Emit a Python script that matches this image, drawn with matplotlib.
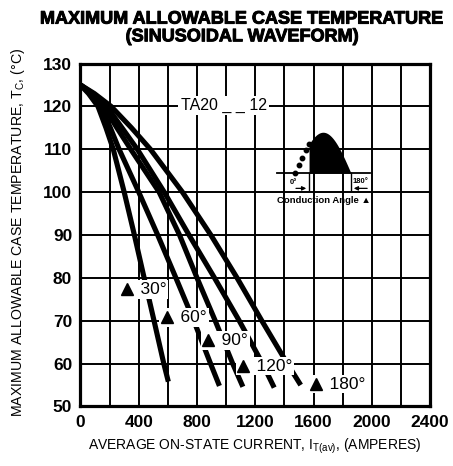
import matplotlib.pyplot as plt
import matplotlib.patheffects as pe
import numpy as np

plt.rcParams['font.family'] = ['Liberation Sans', 'DejaVu Sans']
plt.rcParams['mathtext.fontset'] = 'custom'
plt.rcParams['mathtext.rm'] = 'Liberation Sans'
plt.rcParams['mathtext.it'] = 'Liberation Sans'

# case temperature (degC) vs average on-state current (A), one curve per conduction angle
angles = ['30°', '60°', '90°', '120°', '180°']
amps_30 = [0, 55, 120, 175, 225, 300, 370, 437, 505, 572, 603]
temp_30 = [125, 123, 120, 115, 110, 100, 90, 80, 70, 60, 55.8]
amps_60 = [0, 65, 140, 205, 265, 400, 530, 655, 778, 893, 954]
temp_60 = [125, 123, 120, 115, 110, 100, 90, 80, 70, 60, 54.8]
amps_90 = [0, 75, 160, 250, 345, 540, 680, 800, 925, 1045, 1115]
temp_90 = [125, 123, 120, 115, 110, 100, 90, 80, 70, 60, 54.6]
amps_120 = [0, 85, 180, 285, 390, 575, 745, 920, 1090, 1250, 1330]
temp_120 = [125, 123, 120, 115, 110, 100, 90, 80, 70, 60, 54.4]
amps_180 = [0, 95, 210, 350, 480, 700, 895, 1075, 1245, 1420, 1512]
temp_180 = [125, 123, 120, 115, 110, 100, 90, 80, 70, 60, 55.0]

curves = [(amps_30, temp_30), (amps_60, temp_60), (amps_90, temp_90),
          (amps_120, temp_120), (amps_180, temp_180)]

# triangle marker of each angle label
label_amps = [320, 596, 878, 1119, 1615]
label_temp = [77.4, 70.9, 65.5, 59.5, 55.3]

x_ticks = [0, 400, 800, 1200, 1600, 2000, 2400]
y_ticks = [50, 60, 70, 80, 90, 100, 110, 120, 130]

fig = plt.figure(figsize=(4.53, 4.66), dpi=100)
ax = fig.add_axes([0.1777, 0.1277, 0.7716, 0.736])

for amps, temp in curves:
    ax.plot(amps, temp, color='black', lw=3.7, solid_capstyle='butt',
            solid_joinstyle='round', zorder=3)

for name, xa, ya in zip(angles, label_amps, label_temp):
    ax.text(xa - 42, ya - 0.1, '    ' + name, fontsize=12.5, ha='left', va='center',
            bbox=dict(facecolor='white', edgecolor='none', pad=1.2), zorder=5)
ax.plot(label_amps, label_temp, ls='none', marker='^', ms=8.5, color='black', zorder=6)

ax.text(982, 120.2, 'TA20 _ _ 12', fontsize=11.5, ha='center', va='center',
        bbox=dict(facecolor='white', edgecolor='none', pad=1.5), zorder=5)

ax.set_xlim(0, 2400)
ax.set_ylim(50, 130)
ax.set_xticks(x_ticks)
ax.set_xticks(np.arange(0, 2401, 200), minor=True)
ax.set_yticks(y_ticks)
ax.grid(True, which='both', color='black', lw=1.4)
ax.tick_params(which='both', length=0, labelsize=12.5, pad=6)
for lab in ax.get_xticklabels() + ax.get_yticklabels():
    lab.set_fontweight('bold')
for sp in ax.spines.values():
    sp.set_linewidth(2.3)
ax.set_axisbelow(True)

# conduction angle sketch
ins = ax.inset_axes([0.551, 0.587, 0.300, 0.227])
ins.set_zorder(4)
ins.set_xlim(-70.7, 266.8)
ins.set_ylim(-0.78, 1.12)
ins.axis('off')
ins.patch.set_visible(True)
ins.set_facecolor('white')
ph_dot = np.linspace(0, 45, 5)
ph_on = np.linspace(45, 180, 60)
ins.plot([-58, 241], [0, 0], color='black', lw=1.3)
ins.plot(ph_dot, np.sin(np.radians(ph_dot)), ls='none', marker='o', ms=3.2, color='black')
ins.fill_between(ph_on, 0, np.sin(np.radians(ph_on)), color='black', lw=0)
ins.plot([45, 45], [0, -0.42], color='black', lw=1.0)
ins.plot([180, 180], [0, -0.42], color='black', lw=1.0)
ins.annotate('', xy=(45, -0.37), xytext=(-6, -0.37),
             arrowprops=dict(arrowstyle='-|>', lw=0.9, color='black', mutation_scale=6))
ins.annotate('', xy=(180, -0.37), xytext=(241, -0.37),
             arrowprops=dict(arrowstyle='-|>', lw=0.9, color='black', mutation_scale=6))
ins.text(-4, -0.22, '0°', fontsize=5.5, fontweight='bold', ha='center', va='center')
ins.text(210, -0.2, '180°', fontsize=5.5, fontweight='bold', ha='center', va='center')
ins.text(93, -0.66, 'Conduction Angle ▲', fontsize=6.8, fontweight='bold',
         ha='center', va='center')

heavy = [pe.withStroke(linewidth=0.7, foreground='black')]
fig.text(0.534, 0.959, 'MAXIMUM ALLOWABLE CASE TEMPERATURE', fontsize=13,
         fontweight='bold', ha='center', va='center', path_effects=heavy)
fig.text(0.534, 0.921, '(SINUSOIDAL WAVEFORM)', fontsize=13,
         fontweight='bold', ha='center', va='center', path_effects=heavy)
fig.text(0.04, 0.502, 'MAXIMUM ALLOWABLE CASE TEMPERATURE, T$_C$, (°C)', fontsize=10.2,
         rotation=90, ha='center', va='center')
fig.text(0.563, 0.043, 'AVERAGE ON-STATE CURRENT, I$_{T(av)}$, (AMPERES)', fontsize=10,
         ha='center', va='center')

fig.savefig('out.png', dpi=100)
